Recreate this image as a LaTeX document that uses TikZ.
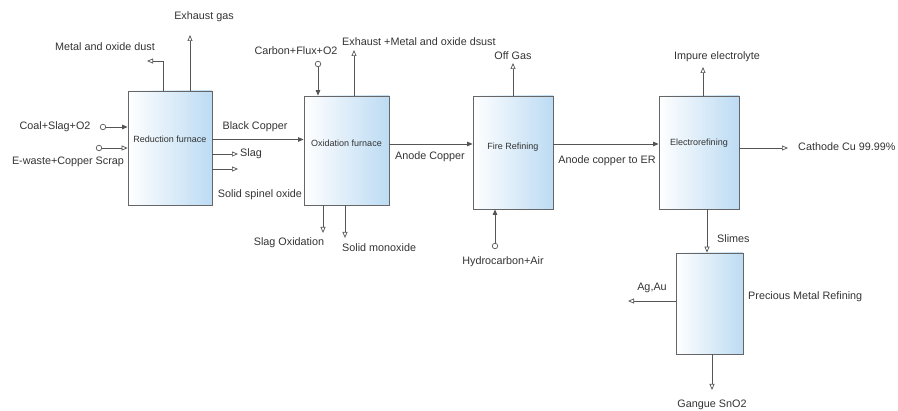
\documentclass[tikz,border=0pt]{standalone}
\usepackage{fontspec}
\setmainfont{Liberation Sans}
\usetikzlibrary{arrows.meta,calc}

\definecolor{boxblue}{HTML}{BCDBF3}
\definecolor{boxgray}{HTML}{666666}
\definecolor{linegray}{HTML}{555555}
\definecolor{txtgray}{HTML}{333333}

\begin{document}
\begin{tikzpicture}[x=1pt,y=-1pt,
  unit/.style={draw=boxgray,line width=0.8pt,left color=white,right color=boxblue,inner sep=0pt},
  unittext/.style={font=\fontsize{9}{10}\selectfont,text=txtgray,inner sep=0pt},
  lbl/.style={font=\fontsize{10.8}{12}\selectfont,text=txtgray,inner sep=0pt,text height=7.8pt,text depth=2.2pt},
  feed/.style={draw=linegray,line width=0.8pt,-{Triangle[length=5.5pt,width=4.5pt]}},
  prod/.style={draw=linegray,line width=0.8pt,-{Triangle[open,length=6pt,width=5pt,line width=0.7pt]}},
  src/.style={circle,draw=linegray,line width=0.7pt,fill=white,minimum size=5.5pt,inner sep=0pt}]
\useasboundingbox (0,0) rectangle (898,411);

\node[unit,minimum width=84pt,minimum height=114pt] (redfur) at (170,148) {};
\node[unittext] (redtxt) at (170,139) {Reduction furnace};
\node[unit,minimum width=85pt,minimum height=109pt] (oxfur) at (346.5,150.5) {};
\node[unittext] (oxtxt) at (346.5,143) {Oxidation furnace};
\node[unit,minimum width=80pt,minimum height=113pt] (firref) at (513,152.5) {};
\node[unittext] (firtxt) at (513,147) {Fire Refining};
\node[unit,minimum width=80pt,minimum height=113pt] (elref) at (699,152.5) {};
\node[unittext] (eltxt) at (699,143) {Electrorefining};
\node[unit,minimum width=67pt,minimum height=101pt] (pmref) at (709.5,303.5) {};

\node[src] (coal) at (103,127) {};
\node[src] (ewaste) at (99,148) {};
\node[src] (carbon) at (318,64) {};
\node[src] (hydro) at (495,246) {};

\coordinate (exgasend) at (190,35);
\coordinate (dustup) at (163,61);
\coordinate (dustend) at (147,61);
\coordinate (slagend) at (238,154);
\coordinate (spinend) at (238,169);
\coordinate (oxexend) at (354,50);
\coordinate (slagoxend) at (323,233);
\coordinate (monoend) at (345,238);
\coordinate (offgasend) at (513,63);
\coordinate (impend) at (703,67);
\coordinate (cathend) at (788,148);
\coordinate (agend) at (628,301);
\coordinate (gangend) at (712,390);

% reduction furnace
\draw[feed] (coal) -- (coal -| redfur.west);
\draw[prod] (ewaste) -- (ewaste -| redfur.west);
\draw[prod] (exgasend |- redfur.north) -- (exgasend);
\draw[prod] (dustup |- redfur.north) -- (dustup) -- (dustend);
\draw[prod] (slagend -| redfur.east) -- (slagend);
\draw[prod] (spinend -| redfur.east) -- (spinend);
\draw[feed] ($(redfur.east)+(0,-8.5)$) -- ($(oxfur.west)+(0,-11)$);

% oxidation furnace
\draw[feed] (carbon) -- (carbon |- oxfur.north);
\draw[prod] (oxexend |- oxfur.north) -- (oxexend);
\draw[prod] (slagoxend |- oxfur.south) -- (slagoxend);
\draw[prod] (monoend |- oxfur.south) -- (monoend);
\draw[feed] ($(oxfur.east)+(0,-6.5)$) -- ($(firref.west)+(0,-8.5)$);

% fire refining
\draw[prod] (firref.north) -- (offgasend);
\draw[feed] (hydro) -- (hydro |- firref.south);
\draw[feed] ($(firref.east)+(0,-8.5)$) -- ($(elref.west)+(0,-8.5)$);

% electrorefining
\draw[prod] (impend |- elref.north) -- (impend);
\draw[prod] (cathend -| elref.east) -- (cathend);
\draw[prod] ($(elref.south)+(8,0)$) -- ($(pmref.north)+(-2.5,0)$);

% precious metal refining
\draw[prod] (agend -| pmref.west) -- (agend);
\draw[prod] (gangend |- pmref.south) -- (gangend);

\node[lbl] (exgas) at (204,17) {Exhaust gas};
\node[lbl] (dust) at (105,48) {Metal and oxide dust};
\node[lbl] (coallbl) at (55,127) {Coal+Slag+O2};
\node[lbl] (ewlbl) at (68,162) {E-waste+Copper Scrap};
\node[lbl] (bclbl) at (255,127) {Black Copper};
\node[lbl,anchor=west] (slaglbl) at (240,154) {Slag};
\node[lbl] (spinlbl) at (260,195) {Solid spinel oxide};
\node[lbl] (cfolbl) at (296,52) {Carbon+Flux+O2};
\node[lbl,anchor=west] (oxexlbl) at (342,43) {Exhaust +Metal and oxide dsust};
\node[lbl] (slagoxlbl) at (289,243) {Slag Oxidation};
\node[lbl,anchor=west] (monolbl) at (342,249) {Solid monoxide};
\node[lbl] (anodelbl) at (430,157) {Anode Copper};
\node[lbl] (offgaslbl) at (513,57) {Off Gas};
\node[lbl] (hydrolbl) at (503,262) {Hydrocarbon+Air};
\node[lbl] (toerlbl) at (607,161) {Anode copper to ER};
\node[lbl] (implbl) at (717,57) {Impure electrolyte};
\node[lbl,anchor=west] (cathlbl) at (798,148) {Cathode Cu 99.99\%};
\node[lbl,anchor=west] (slimeslbl) at (717,240) {Slimes};
\node[lbl,anchor=west] (pmlbl) at (748,297) {Precious Metal Refining};
\node[lbl] (aglbl) at (652,288) {Ag,Au};
\node[lbl] (ganglbl) at (712,405) {Gangue SnO2};
\end{tikzpicture}
\end{document}
